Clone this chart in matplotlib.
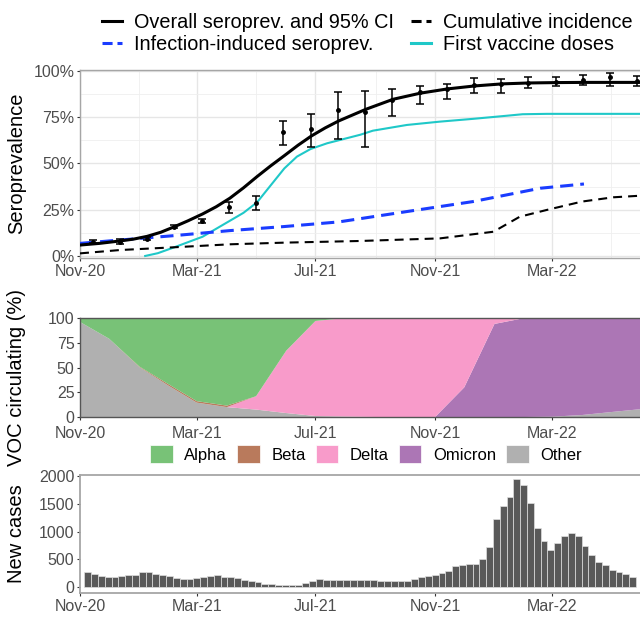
import matplotlib
matplotlib.use("Agg")
import matplotlib.pyplot as plt
import matplotlib.dates as mdates
from matplotlib.lines import Line2D
from matplotlib.patches import Patch
import numpy as np
import pandas as pd

plt.rcParams['font.family'] = ['Liberation Sans', 'DejaVu Sans']

# ---------------- seroprevalence panel ----------------
survey_dates = pd.date_range('2020-11-14', periods=21, freq='28D')
sero_mean = [0.077, 0.078, 0.092, 0.158, 0.19, 0.265, 0.285, 0.669, 0.685, 0.789, 0.78,
             0.843, 0.885, 0.90, 0.924, 0.93, 0.937, 0.942, 0.951, 0.966, 0.948]
sero_lo = [0.07, 0.065, 0.085, 0.15, 0.18, 0.23, 0.25, 0.598, 0.588, 0.63, 0.588,
           0.757, 0.82, 0.849, 0.88, 0.88, 0.906, 0.92, 0.924, 0.919, 0.92]
sero_hi = [0.085, 0.09, 0.10, 0.17, 0.20, 0.293, 0.325, 0.73, 0.766, 0.888, 0.894,
           0.903, 0.92, 0.928, 0.964, 0.957, 0.966, 0.966, 0.978, 0.987, 0.975]

overall_dates = ['2020-11-01', '2020-11-21', '2020-12-12', '2020-12-26', '2021-01-09',
                 '2021-01-23', '2021-02-06', '2021-02-20', '2021-03-07', '2021-03-21',
                 '2021-04-04', '2021-04-18', '2021-05-02', '2021-05-16', '2021-05-30',
                 '2021-06-13', '2021-06-27', '2021-07-11', '2021-07-25', '2021-08-22',
                 '2021-09-19', '2021-10-17', '2021-11-14', '2021-12-12', '2022-01-09',
                 '2022-02-06', '2022-03-06', '2022-04-03', '2022-05-01', '2022-06-14']
overall_fit = [0.059, 0.068, 0.081, 0.091, 0.106, 0.128, 0.158, 0.19, 0.227, 0.266,
               0.312, 0.368, 0.429, 0.487, 0.542, 0.598, 0.649, 0.692, 0.73, 0.793,
               0.847, 0.88, 0.903, 0.919, 0.93, 0.935, 0.937, 0.938, 0.938, 0.938]

vacc_dates = ['2021-01-07', '2021-01-20', '2021-02-06', '2021-03-07', '2021-04-04',
              '2021-04-18', '2021-05-02', '2021-05-15', '2021-05-30', '2021-06-12',
              '2021-06-26', '2021-07-13', '2021-08-16', '2021-08-29', '2021-10-03',
              '2021-11-06', '2021-12-10', '2022-01-14', '2022-01-30', '2022-02-24',
              '2022-06-14']
vacc_first = [0.0, 0.015, 0.047, 0.104, 0.19, 0.233, 0.29, 0.375, 0.473, 0.537,
              0.578, 0.609, 0.655, 0.677, 0.708, 0.726, 0.741, 0.758, 0.766, 0.768,
              0.768]

infect_dates = ['2020-11-01', '2020-12-12', '2021-02-06', '2021-04-04', '2021-05-30',
                '2021-07-25', '2021-10-03', '2021-12-10', '2022-02-17', '2022-04-03']
infect_sero = [0.068, 0.086, 0.11, 0.137, 0.159, 0.184, 0.24, 0.294, 0.366, 0.389]

cumul_dates = ['2020-11-01', '2020-12-12', '2021-02-06', '2021-04-04', '2021-05-30',
               '2021-08-16', '2021-11-06', '2021-12-31', '2022-01-27', '2022-02-24',
               '2022-04-01', '2022-05-03', '2022-06-14']
cumul_inc = [0.014, 0.032, 0.047, 0.063, 0.072, 0.081, 0.095, 0.131, 0.212, 0.249,
             0.294, 0.317, 0.33]

# ---------------- variant panel ----------------
voc_dates = pd.date_range('2020-11-01', periods=20, freq='MS')
alpha = [4, 21, 49, 67.5, 84, 88.5, 79, 33, 3, 0, 0, 0, 0, 0, 0, 0, 0, 0, 0, 0]
beta = [0, 0, 0.5, 1.5, 1.5, 1.5, 0, 0, 0, 0, 0, 0, 0, 0, 0, 0, 0, 0, 0, 0]
delta = [0, 0, 0, 0, 0, 0, 13.5, 63, 96, 99.5, 100, 100, 100, 70, 6, 0, 0, 0, 0, 0]
omicron = [0, 0, 0, 0, 0, 0, 0, 0, 0, 0, 0, 0, 0, 30, 94, 100, 99.7, 98, 95, 92]
other = [96, 79, 50.5, 31, 14.5, 10, 7.5, 4, 1, 0.5, 0, 0, 0, 0, 0, 0, 0.3, 2, 5, 8]
voc_labels = ['Alpha', 'Beta', 'Delta', 'Omicron', 'Other']
voc_colors = ['#78c277', '#b97a5c', '#f89bca', '#ac76b5', '#b0b0b0']

# ---------------- weekly cases panel ----------------
case_weeks = pd.date_range('2020-11-09', periods=81, freq='7D')
new_cases = [273, 242, 206, 182, 182, 206, 218, 212, 267, 267, 236, 218, 194, 158, 145,
             145, 158, 176, 206, 218, 176, 182, 164, 133, 109, 85, 61, 48, 42, 30,
             30, 42, 73, 109, 145, 133, 121, 121, 133, 133, 133, 133, 133, 109, 109,
             109, 109, 115, 150, 176, 194, 224, 255, 297, 376, 400, 412, 412, 497, 727,
             1224, 1455, 1630, 1940, 1830, 1515, 1067, 825, 675, 795, 925, 980, 915, 735,
             575, 445, 405, 310, 265, 232, 178]

W, H = 640, 617
fig = plt.figure(figsize=(W / 100, H / 100), dpi=100)


def box(x0, y0, x1, y1):
    return [x0 / W, 1 - y1 / H, (x1 - x0) / W, (y1 - y0) / H]


xmin, xmax = pd.Timestamp('2020-11-01'), pd.Timestamp('2022-06-14')
tick_col = '#4d4d4d'

ax1 = fig.add_axes(box(80, 70, 654, 258))
ax2 = fig.add_axes(box(80, 318, 654, 417))
ax3 = fig.add_axes(box(80, 475, 654, 593))

for ax in (ax1, ax2, ax3):
    ax.set_xlim(xmin, xmax)
    ax.xaxis.set_major_locator(mdates.MonthLocator(bymonth=[3, 7, 11]))
    ax.xaxis.set_major_formatter(mdates.DateFormatter('%b-%y'))
    ax.tick_params(length=2.5, width=0.8, pad=1.5, labelsize=11.5,
                   labelcolor=tick_col, color='#333333')
ax2.tick_params(axis='x', pad=4)

# top panel
ax1.plot(pd.to_datetime(overall_dates), overall_fit, color='black', lw=2.2, zorder=4)
ax1.plot(pd.to_datetime(vacc_dates), vacc_first, color='#1fc8c8', lw=1.5, zorder=3)
ax1.plot(pd.to_datetime(infect_dates), infect_sero, color='#1a3cff', lw=2.2,
         linestyle=(0, (4.3, 2.3)), zorder=3)
ax1.plot(pd.to_datetime(cumul_dates), cumul_inc, color='black', lw=1.5,
         linestyle=(0, (4.3, 2.9)), zorder=3)
err = [np.array(sero_mean) - np.array(sero_lo), np.array(sero_hi) - np.array(sero_mean)]
ax1.errorbar(survey_dates, sero_mean, yerr=err, fmt='o', ms=2.5, color='black',
             ecolor='black', elinewidth=1.1, capsize=3, capthick=1.1, zorder=5)
ax1.set_ylim(-0.011, 1.005)
ax1.set_yticks([0, 0.25, 0.5, 0.75, 1.0])
ax1.set_yticklabels(['0%', '25%', '50%', '75%', '100%'])
ax1.set_yticks([0.125, 0.375, 0.625, 0.875], minor=True)
ax1.xaxis.set_minor_locator(mdates.MonthLocator(bymonth=[1, 5, 9]))
ax1.tick_params(which='minor', length=0)
ax1.grid(True, which='major', color='#e6e6e6', lw=1.0)
ax1.grid(True, which='minor', color='#efefef', lw=0.6)
ax1.set_axisbelow(True)
for s in ax1.spines.values():
    s.set_color('#a6a6a6')
    s.set_linewidth(1.0)

# middle panel (stack order bottom->top: Other, Omicron, Delta, Beta, Alpha)
ax2.stackplot(voc_dates, other, omicron, delta, beta, alpha,
              colors=[voc_colors[4], voc_colors[3], voc_colors[2], voc_colors[1], voc_colors[0]],
              lw=0)
ax2.set_ylim(0, 100)
ax2.set_yticks([0, 25, 50, 75, 100])
for s in ax2.spines.values():
    s.set_color('#555555')
    s.set_linewidth(1.0)

# bottom panel
ax3.bar(case_weeks, new_cases, width=7, color='#595959', edgecolor='#e0e0e0', lw=0.5)
ax3.set_ylim(-108, 2018)
ax3.set_yticks([0, 500, 1000, 1500, 2000])
for s in ax3.spines.values():
    s.set_color('#a6a6a6')
    s.set_linewidth(1.3)

# axis titles
fig.text(17 / W, 1 - 163 / H, 'Seroprevalence', rotation=90, ha='center', va='center', fontsize=14.5)
fig.text(17 / W, 1 - 377 / H, 'VOC circulating (%)', rotation=90, ha='center', va='center', fontsize=14.5)
fig.text(17 / W, 1 - 534 / H, 'New cases', rotation=90, ha='center', va='center', fontsize=14.5)

# legends
top_handles = [
    Line2D([], [], color='black', lw=2.2),
    Line2D([], [], color='#1a3cff', lw=2.2, linestyle=(0, (3.3, 1.6))),
    Line2D([], [], color='black', lw=2.2, linestyle=(0, (3.3, 1.6))),
    Line2D([], [], color='#1fc8c8', lw=2.2),
]
top_labels = ['Overall seroprev. and 95% CI', 'Infection-induced seroprev.',
              'Cumulative incidence', 'First vaccine doses']
fig.legend(top_handles, top_labels, ncol=2, loc='upper left',
           bbox_to_anchor=(92 / W, 1 - 3 / H), frameon=False, fontsize=14.3,
           handlelength=1.0, handletextpad=0.6, columnspacing=0.9, labelspacing=0.15,
           borderpad=0)

voc_handles = [Patch(facecolor=c, edgecolor='white', lw=0.5) for c in voc_colors]
fig.legend(voc_handles, voc_labels, ncol=5, loc='center',
           bbox_to_anchor=(366 / W, 1 - 454 / H), frameon=False, fontsize=12,
           handlelength=1.35, handleheight=1.35, handletextpad=0.7, columnspacing=0.6,
           borderpad=0)

fig.savefig('out.png', dpi=100)
